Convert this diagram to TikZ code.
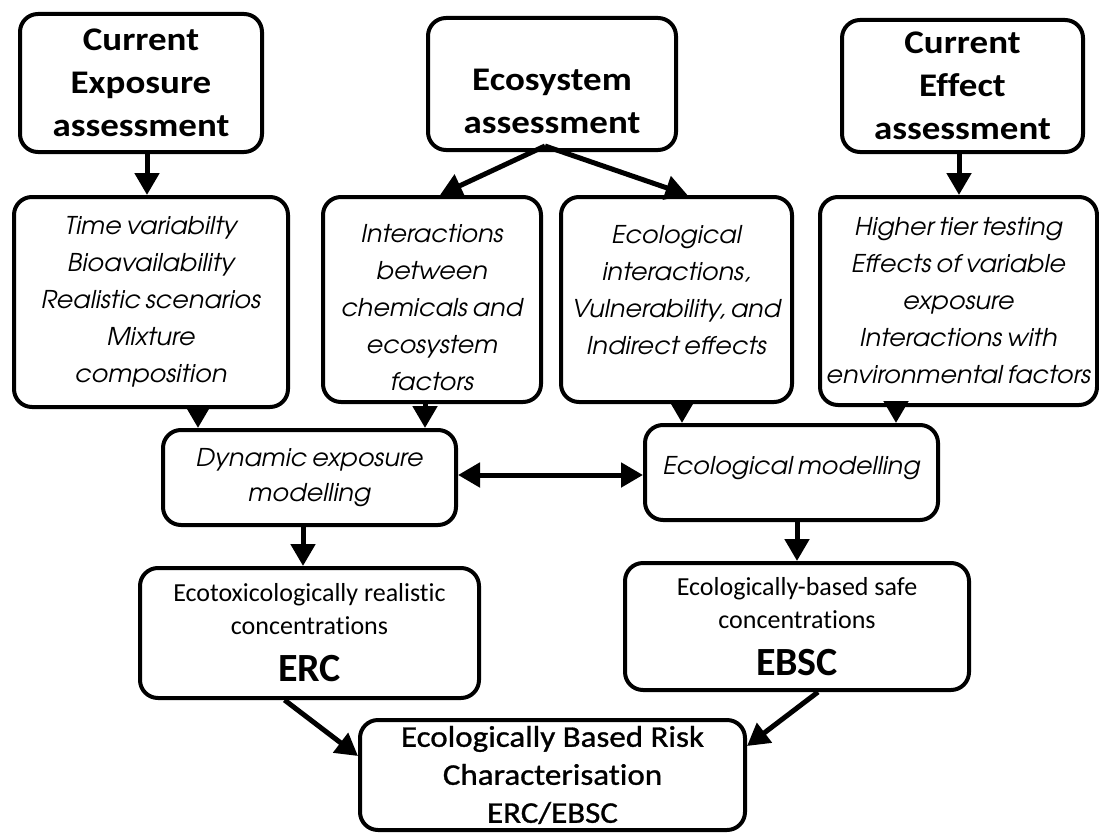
\documentclass[tikz,border=0pt]{standalone}
\usepackage{fontspec}
\setmainfont{Carlito}[Ligatures=NoCommon]
\newfontfamily\gothic{texgyreadventor}[Extension=.otf, UprightFont=*-regular, ItalicFont=*-italic, WordSpace=0.7, FakeStretch=1.04]
\newfontfamily\widebold{Carlito Bold}[FakeStretch=1.12, Ligatures=NoCommon]
\newfontfamily\heavycal{Carlito}[FakeBold=1, FakeStretch=1.1, Ligatures=NoCommon]
\usetikzlibrary{arrows.meta}

% struts that lift or lower a block of lines inside its box
\newcommand{\lowerby}[1]{\rule{0pt}{#1}}
\newcommand{\liftby}[1]{\rule[-#1]{0pt}{#1}}

\tikzset{
  box/.style={draw, line width=4pt, rounded corners=18pt, align=center, inner sep=0pt},
  head/.style={box, font=\widebold\fontsize{33}{43}\selectfont},
  note/.style={box, font=\gothic\itshape\fontsize{24.5}{37}\selectfont},
  result/.style={box, font=\fontsize{26}{33}\selectfont},
  arr/.style={line width=5pt, -{Triangle[length=22pt,width=24pt]}},
  dbl/.style={line width=5pt, {Triangle[length=22pt,width=24pt]}-{Triangle[length=22pt,width=24pt]}}
}

\begin{document}
\begin{tikzpicture}[x=1pt, y=-1pt]
\useasboundingbox (0,0) rectangle (1099,832);

% assessment boxes
\node[head, minimum width=242pt, minimum height=138pt] (cea) at (141,83) {Current\\Exposure\\assessment};
\node[head, minimum width=248pt, minimum height=132pt] (eca) at (552,84) {\lowerby{56pt}Ecosystem\\assessment};
\node[head, minimum width=241pt, minimum height=132pt] (cfa) at (962.5,86) {Current\\Effect\\assessment};

% considerations
\node[note, minimum width=274pt, minimum height=210pt] (tv) at (151,302)
  {Time variabilty\\Bioavailability\\Realistic scenarios\\Mixture\\composition};
\node[note, minimum width=218pt, minimum height=205pt] (icf) at (432,299.5)
  {\lowerby{34pt}Interactions\\between\\chemicals and\\ecosystem\\factors};
\node[note, minimum width=231pt, minimum height=205pt] (eiv) at (676.5,299.5)
  {Ecological\\interactions,\\Vulnerability, and\\Indirect effects\liftby{20pt}};
\node[note, minimum width=277pt, minimum height=208pt] (htt) at (958.5,301)
  {Higher tier testing\\Effects of variable\\exposure\\Interactions with\\environmental factors};

% modelling
\node[note, minimum width=293pt, minimum height=95pt, font=\gothic\itshape\fontsize{24.5}{35}\selectfont] (dem) at (309.5,477.5)
  {Dynamic exposure\\modelling};
\node[note, minimum width=293pt, minimum height=95pt] (ecm) at (791.5,472.5)
  {Ecological modelling\liftby{14pt}};

% concentrations
\node[result, minimum width=339pt, minimum height=130pt] (erc) at (309.5,633)
  {Ecotoxicologically realistic\\concentrations\\[14pt]{\fontsize{40}{42}\selectfont\bfseries ERC}};
\node[result, minimum width=344pt, minimum height=127pt] (ebsc) at (797,626.5)
  {Ecologically-based safe\\concentrations\\[14pt]{\fontsize{40}{42}\selectfont\bfseries EBSC}};

% risk characterisation
\node[box, minimum width=385pt, minimum height=110pt, font=\heavycal\fontsize{30}{38}\selectfont] (risk) at (552.5,775)
  {Ecologically Based Risk\\Characterisation\\ERC/EBSC};

% connectors
\coordinate (fork) at ([xshift=-7pt,yshift=6pt]eca.south);
\draw[arr] ([xshift=6pt]cea.south) -- ([xshift=-4pt]tv.north);
\draw[arr] (fork) -- ([xshift=8pt]icf.north);
\draw[arr] (fork) -- ([xshift=11pt]eiv.north);
\draw[arr] ([xshift=-3.5pt]cfa.south) -- ([xshift=0.5pt]htt.north);

\draw[arr] ([xshift=47pt]tv.south) -- ([xshift=47pt]tv.south |- dem.north);
\draw[arr] ([xshift=-7pt]icf.south) -- ([xshift=-7pt]icf.south |- dem.north);
\draw[arr] ([xshift=5.5pt]eiv.south) -- ([xshift=5.5pt]eiv.south |- ecm.north);
\draw[arr] ([xshift=-62.5pt]htt.south) -- ([xshift=-62.5pt]htt.south |- ecm.north);

\draw[dbl] (dem.east |- 0,475) -- (ecm.west |- 0,475);

\draw[arr] ([xshift=-6.5pt]dem.south) -- ([xshift=-6.5pt]dem.south |- erc.north);
\draw[arr] ([xshift=5.5pt]ecm.south) -- ([xshift=5.5pt]ecm.south |- ebsc.north);

\draw[arr] ([xshift=-25pt]erc.south) -- ([yshift=19pt]risk.west);
\draw[arr] ([xshift=21pt]ebsc.south) -- ([yshift=29pt]risk.east);
\end{tikzpicture}
\end{document}
